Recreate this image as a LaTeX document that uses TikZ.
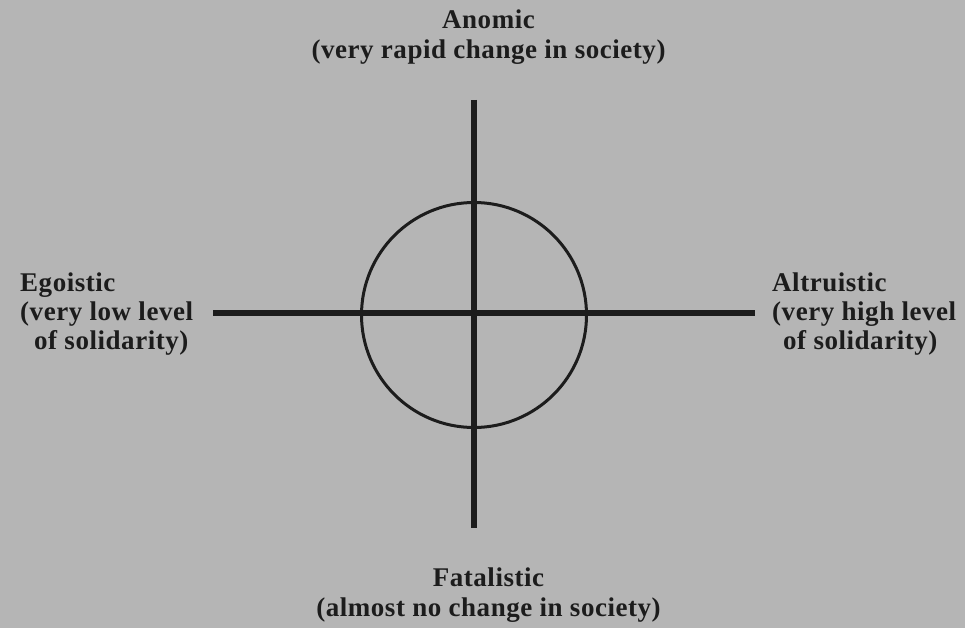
\documentclass[tikz,border=0pt]{standalone}
\usepackage{fontspec}
\setmainfont{Liberation Serif}[LetterSpace=2.0]

\begin{document}
\begin{tikzpicture}[x=1pt,y=-1pt]
    % 定义颜色
    \definecolor{bggray}{RGB}{181,181,181}
    \definecolor{inkdark}{RGB}{28,28,28}

    % --- 设置全局样式 ---
    \tikzset{LabelStyle/.style = {
        text=inkdark,           % 文字颜色
        inner sep=0pt,          % 内部文字边距
        font=\bfseries\fontsize{27}{30}\selectfont % 字体设置
    }}
    \tikzset{SideStyle/.style = {
        LabelStyle,
        align=left,             % 文字左对齐
        anchor=west,
        font=\bfseries\fontsize{27}{29}\selectfont
    }}
    \tikzset{AxisStyle/.style = {
        line width=6pt,         % 线条粗细
        color=inkdark           % 线条颜色
    }}
    \tikzset{RingStyle/.style = {
        shape=circle,           % 形状：圆
        draw=inkdark,           % 边框颜色
        line width=3pt,         % 边框粗细
        minimum size=225pt,     % 直径
        inner sep=0pt
    }}

    % 背景
    \fill[bggray] (0,0) rectangle (965,628);
    \useasboundingbox (0,0) rectangle (965,628);

    % --- 定义节点 ---
    \node[LabelStyle, align=center] (A) at (488.5,37.5)
        {Anomic\\(very rapid change in society)};
    \node[LabelStyle, align=center] (F) at (488.5,595.5)
        {Fatalistic\\(almost no change in society)};
    \node[SideStyle] (E) at (20,314)
        {Egoistic\\(very low level\\\hspace*{14pt}of solidarity)};
    \node[SideStyle] (L) at (772,314)
        {Altruistic\\(very high level\\\hspace*{11pt}of solidarity)};

    % 圆和轴端点
    \node[RingStyle] (O) at (474,315) {};
    \coordinate (top) at (474,100);
    \coordinate (bot) at (474,528);
    \coordinate (lft) at (213,313);
    \coordinate (rgt) at (755,313);

    % --- 定义连线 ---
    \draw[AxisStyle] (top) -- (bot); % 纵轴
    \draw[AxisStyle] (lft) -- (rgt); % 横轴

\end{tikzpicture}
\end{document}
